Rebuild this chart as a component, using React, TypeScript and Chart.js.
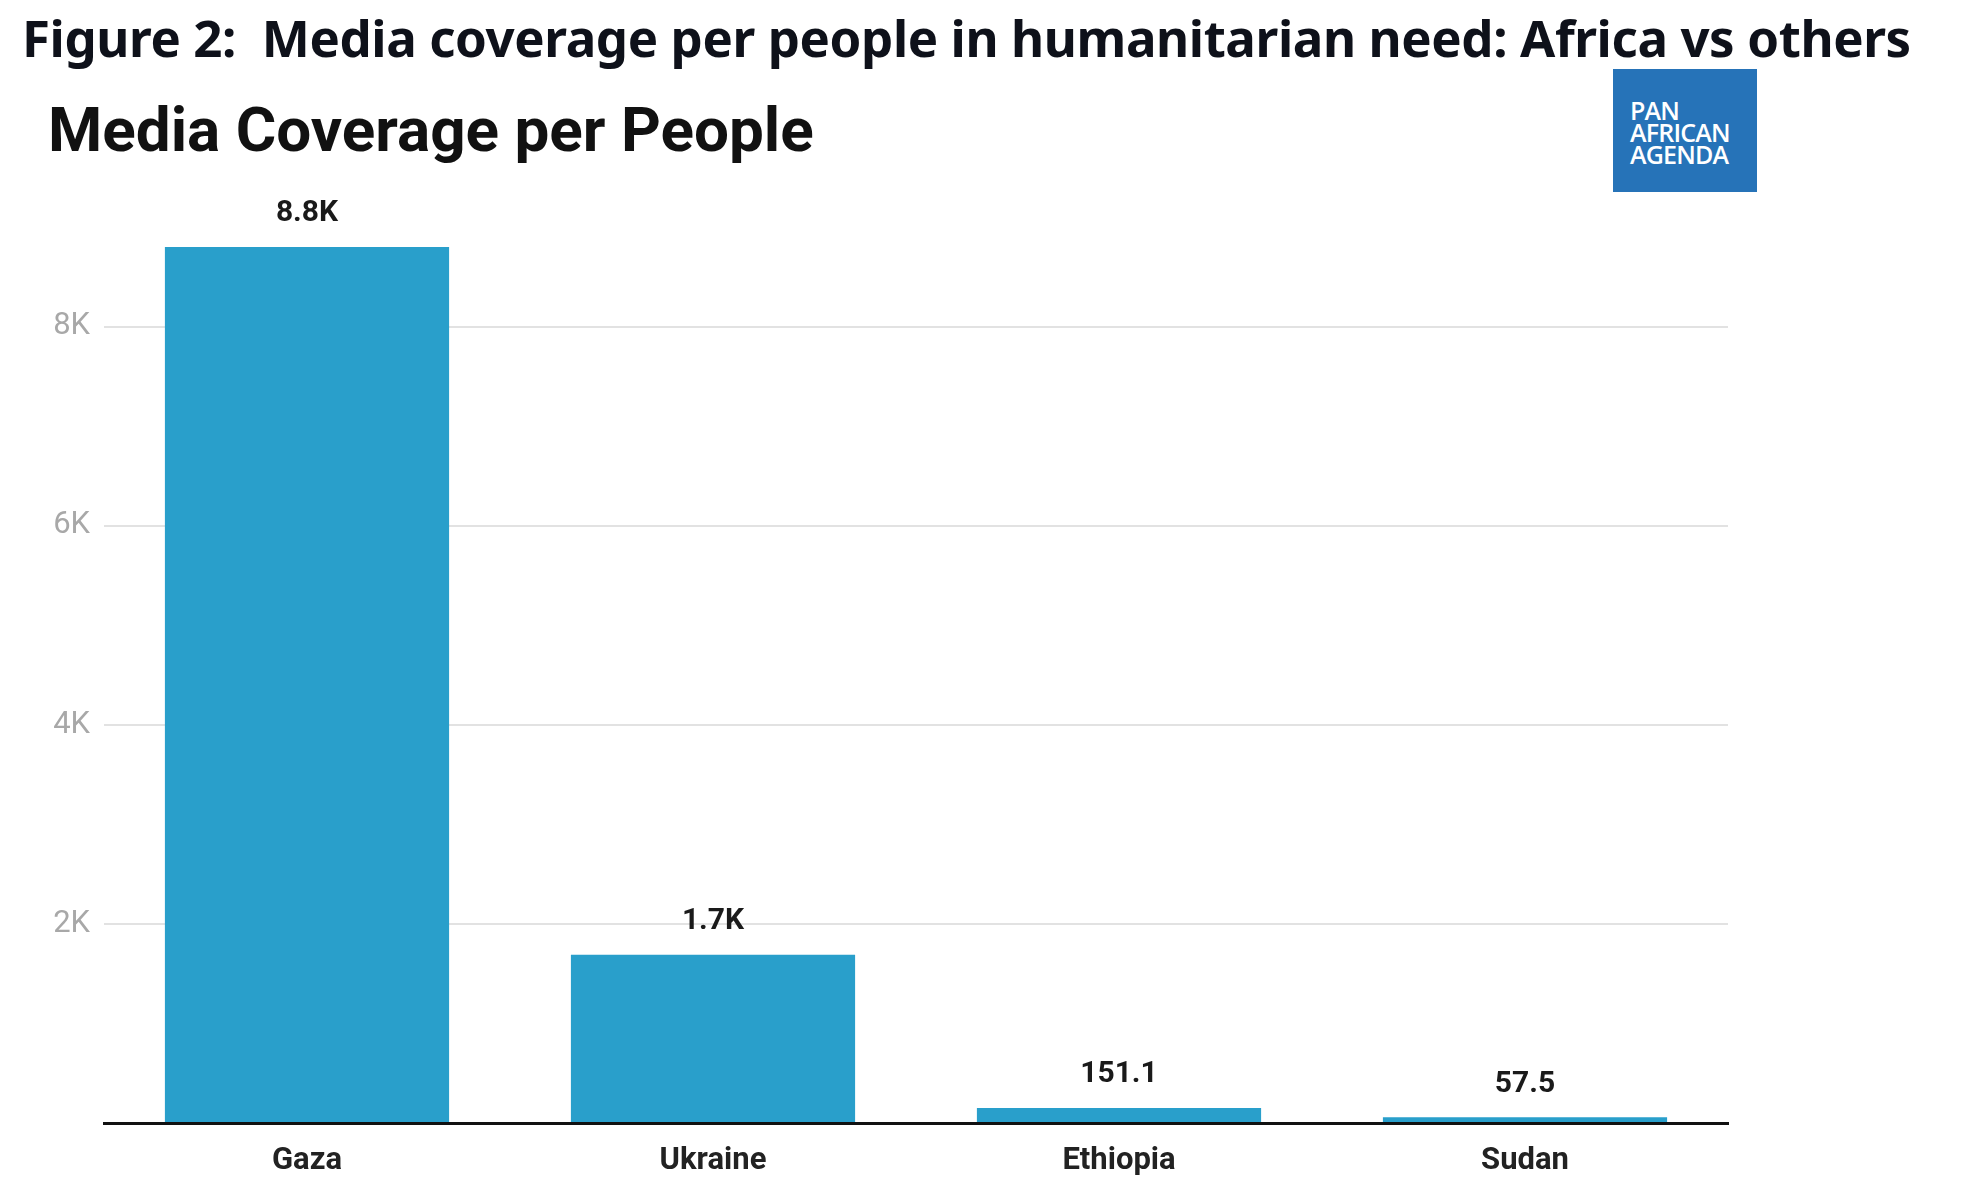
import React, { useEffect, useRef } from "react";
import { Chart, registerables } from "chart.js";
Chart.register(...registerables);

const categories = ["Gaza", "Ukraine", "Ethiopia", "Sudan"];
const values = [8800, 1690, 151.1, 57.5];
const valueLabels = ["8.8K", "1.7K", "151.1", "57.5"];
const tickValues = [0, 2000, 4000, 6000, 8000];
const tickLabels = ["", "2K", "4K", "6K", "8K"];

const labelPlugin = {
  id: "valueLabels",
  afterDatasetsDraw(chart: any) {
    const ctx = chart.ctx;
    const meta = chart.getDatasetMeta(0);
    ctx.save();
    ctx.font = "bold 30px Roboto";
    ctx.fillStyle = "#1a1a1a";
    ctx.textAlign = "center";
    ctx.textBaseline = "middle";
    meta.data.forEach((bar: any, i: number) => {
      ctx.fillText(valueLabels[i], bar.x, bar.y - 33);
    });
    ctx.restore();
  },
};

export default function App() {
  const ref = useRef<HTMLCanvasElement>(null);
  useEffect(() => {
    const chart = new Chart(ref.current!, {
      type: "bar",
      data: {
        labels: categories,
        datasets: [{ data: values, backgroundColor: "#299FCB", categoryPercentage: 0.7, barPercentage: 1 }],
      },
      options: {
        animation: false,
        responsive: false,
        layout: { padding: { left: 0, right: 235, top: 227, bottom: 0 } },
        plugins: { legend: { display: false }, tooltip: { enabled: false } },
        scales: {
          x: {
            grid: { display: false },
            border: { color: "#111", width: 3 },
            ticks: { color: "#222", font: { family: "Roboto", weight: "bold", size: 31 }, padding: 12 },
            afterFit: (s: any) => { s.height = 77; },
          },
          y: {
            min: 0,
            max: 9000,
            border: { display: false },
            grid: { color: (c: any) => (c.tick && c.tick.value > 0 && c.tick.value <= 8000 ? "#e2e2e2" : "rgba(0,0,0,0)"), lineWidth: 2, drawTicks: false },
            afterBuildTicks: (s: any) => { s.ticks = tickValues.map((v) => ({ value: v })); },
            ticks: {
              color: "#a8a8a8",
              font: { family: "Roboto", size: 31 },
              padding: 14,
              callback: (v: any) => tickLabels[tickValues.indexOf(Number(v))] ?? "",
            },
            afterFit: (s: any) => { s.width = 104; },
          },
        },
      },
      plugins: [labelPlugin],
    });
    return () => chart.destroy();
  }, []);
  return (
    <div style={{ position: "absolute", left: 0, top: 0, width: 1963, height: 1200, background: "#fff", overflow: "hidden" }}>
      <canvas ref={ref} width={1963} height={1200} style={{ position: "absolute", left: 0, top: 0, width: 1963, height: 1200 }} />
      <div style={{ position: "absolute", left: 22, top: 2, fontFamily: "'Noto Sans', sans-serif", fontWeight: 700, fontSize: 51, color: "#0e111a", whiteSpace: "nowrap", letterSpacing: -0.4 }}>
        Figure 2:&nbsp; Media coverage per people in humanitarian need: Africa vs others
      </div>
      <div style={{ position: "absolute", left: 48, top: 93, fontFamily: "Roboto, sans-serif", fontWeight: 700, fontSize: 62, color: "#111", whiteSpace: "nowrap" }}>
        Media Coverage per People
      </div>
      <div style={{ position: "absolute", left: 1613, top: 69, width: 144, height: 123, background: "#2673B8", color: "#fff", fontFamily: "'Open Sans', sans-serif", fontWeight: 600, fontSize: 25, lineHeight: "22px", padding: "30px 0 0 17px", boxSizing: "border-box", letterSpacing: -0.8 }}>
        PAN<br />AFRICAN<br />AGENDA
      </div>
    </div>
  );
}
